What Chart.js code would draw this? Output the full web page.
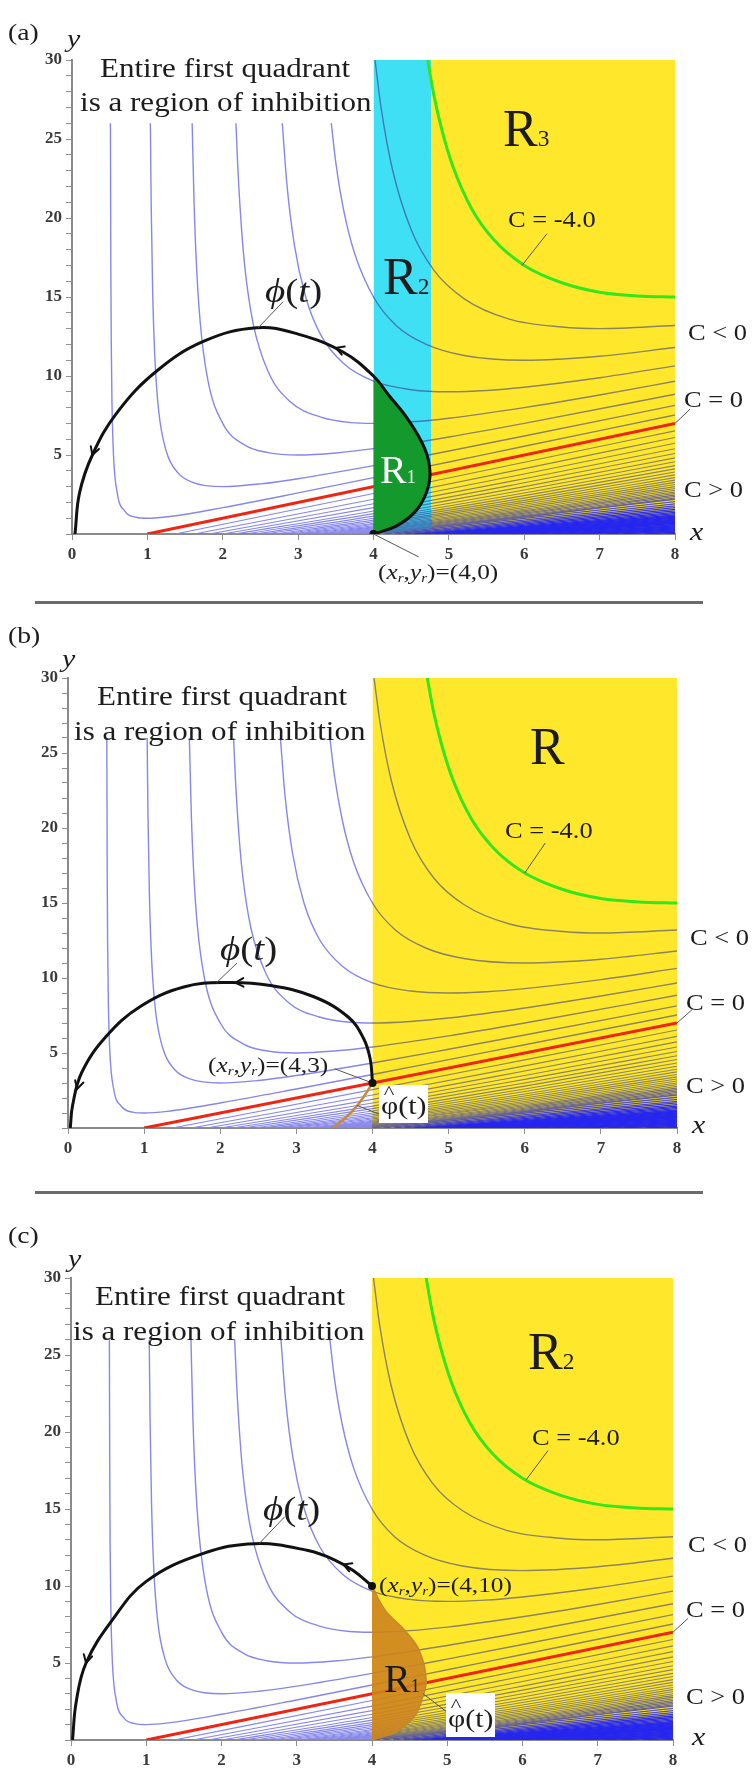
<!DOCTYPE html>
<html>
<head>
<meta charset="utf-8">
<script src="https://cdn.jsdelivr.net/npm/chart.js@4.4.1/dist/chart.umd.min.js"></script>
<style>
  body { margin: 0; background: #fff; }
  #page { position: relative; width: 754px; height: 1782px; overflow: hidden;
          font-family: "Liberation Serif", "Times New Roman", serif; color: #1c1c1c; }
  canvas { position: absolute; left: 0; }
  .t { position: absolute; white-space: nowrap; line-height: 1; transform-origin: 0 0; transform: scaleX(1.15); }
  .t .s { font-size: 0.45em; }
  .t sub { font-size: 0.6em; vertical-align: baseline; position: relative; top: 0.22em; }
  .sep { position: absolute; left: 35px; width: 668px; height: 3px; background: #6b6b6b; }
  .box { position: absolute; background: #fff; }
  .hat { position: relative; }
  .hat b { position: absolute; left: 0.12em; top: -0.42em; font-weight: normal; font-size: 0.75em; }
</style>
</head>
<body>
<div id="page"></div>
<script>
// ---- tick labels
const xTickLabels = [0, 1, 2, 3, 4, 5, 6, 7, 8];
const yTickLabels = [5, 10, 15, 20, 25, 30];

// ---- level curves above C = 0 as [x, y]
const curveA = [[0.51,26],[0.515,17],[0.52,12.5],[0.53,8.4],[0.55,5.05],[0.6,2.6],[0.7,1.45],[0.85,1.06],[1,1],[1.3,1.11],[2,1.67],[3,2.6],[4,3.57],[5,4.56],[6,5.55],[8,7.53]];
const curveB = [[1.04,26],[1.05,21],[1.07,15.4],[1.1,11.1],[1.15,7.8],[1.25,5.25],[1.4,3.9],[1.6,3.27],[2,3],[2.5,3.17],[3,3.5],[4,4.33],[5,5.25],[6,6.2],[8,8.14]];
const curveC = [[1.594,26],[1.62,20.9],[1.65,17.15],[1.7,13.45],[1.8,9.8],[2,7],[2.3,5.61],[2.6,5.15],[3,5],[3.5,5.13],[4,5.4],[5,6.14],[6,7],[8,8.85]];
const curveD = [[2.175,26],[2.2,23.2],[2.25,19.25],[2.3,16.6],[2.4,13.4],[2.6,10.3],[2.9,8.35],[3.3,7.4],[3.7,7.05],[4,7],[4.5,7.1],[5,7.33],[6,8],[7,8.8],[8,9.67]];
const curveE = [[2.79,26],[2.85,22.2],[2.95,18.3],[3.1,15],[3.3,12.6],[3.6,10.8],[4,9.67],[4.5,9.13],[5,9],[5.5,9.08],[6,9.29],[7,9.89],[8,10.64]];
const curveF = [[3.44,26],[3.5,23.5],[3.6,20.6],[3.75,17.75],[4,15],[4.3,13.2],[4.7,12],[5.2,11.3],[6,11],[7,11.25],[8,11.8]];
const curveG = [[4.02,30],[4.1,27],[4.25,23.1],[4.5,19.25],[4.8,16.7],[5.2,14.9],[5.8,13.6],[6.5,13.1],[7,13],[8,13.2]];
const curveMinus4 = [[4.72,30],[4.8,27.8],[4.9,25.7],[5.05,23.3],[5.3,20.6],[5.6,18.6],[6,17],[6.5,15.9],[7,15.3],[7.5,15.07],[8,15]];
const curveZero = [[1,0],[8,7]];

// ---- level curves below C = 0 (C > 0): start on the x axis, y at x = 4, 6, 8
const fanStartX = [1.37,1.62,1.82,2.0,2.16,2.3,2.44,2.56,2.68,2.79,2.9,3.0,3.1,3.19,3.28,3.37,3.46,3.54,3.62,3.7,3.78,3.85,3.93];
const fanY4 = [2.56,2.2,1.91,1.67,1.46,1.29,1.13,1.0,0.88,0.78,0.68,0.6,0.52,0.45,0.39,0.33,0.28,0.23,0.19,0.14,0.1,0.07,0.03];
const fanY6 = [4.54,4.14,3.8,3.5,3.24,3.0,2.79,2.6,2.43,2.27,2.13,2.0,1.88,1.77,1.67,1.57,1.48,1.4,1.32,1.25,1.18,1.12,1.06];
const fanY8 = [6.53,6.11,5.74,5.4,5.1,4.82,4.57,4.33,4.12,3.92,3.74,3.57,3.41,3.27,3.13,3.0,2.88,2.77,2.66,2.56,2.46,2.37,2.28];
// dense ones near the bottom right: start on the x axis, y at x = 8
const bandStartX = [4.0,4.14,4.28,4.41,4.53,4.65,4.77,4.89,5.0,5.11,5.22,5.32,5.42,5.52,5.62,5.72,5.82,5.91,6.0,6.18,6.35,6.52,6.69,6.84,7.08,7.3,7.59,7.87];
const bandY8 = [2.2,2.05,1.91,1.78,1.67,1.56,1.46,1.37,1.29,1.21,1.13,1.07,1.0,0.94,0.88,0.83,0.78,0.73,0.68,0.6,0.52,0.46,0.39,0.33,0.26,0.19,0.1,0.03];
// where those lines merge into a solid blue wedge
const bandSolid = [[4.5,0],[8,1.2]];

// ---- trajectories
const phiA = [[4,0],[4.3,0.5],[4.55,1.4],[4.7,2.6],[4.75,3.9],[4.68,5.4],[4.45,7.3],[4.2,8.8],[4,10],[3.6,11.5],[3,12.65],[2.45,13.05],[1.75,12.2],[1.12,10.3],[0.6,7.7],[0.27,5],[0.1,2.6],[0.04,0]];
const regionA = phiA.slice(0, 9);
const phiB = [[4,3],[3.97,4.6],[3.88,6],[3.68,7.4],[3.23,8.75],[2.66,9.5],[2.09,9.7],[1.52,9.4],[0.95,8.1],[0.5,6.1],[0.18,3.7],[0.06,1.5],[0.03,0]];
const phiHatB = [[4,3],[3.9,2.2],[3.8,1.5],[3.65,0.7],[3.48,0]];
const phiC = [[4,10],[3.75,11],[3.5,11.7],[3.15,12.3],[2.45,12.75],[1.75,12.1],[1,10.3],[0.55,7.8],[0.2,5],[0.07,2.5],[0.02,0]];
const regionC = [[4,10],[4.18,8.4],[4.44,7.1],[4.63,5.8],[4.72,3.9],[4.66,2.6],[4.56,1.5],[4.3,0.5],[4,0]];
const resetA = [[4,0]], resetB = [[4,3]], resetC = [[4,10]];

// ---- shaded regions
const yellowA = [[4.77,30],[8,30]];
const cyanA = [[4,30],[4.77,30]];
const yellowBC = [[4,30],[8,30]];

const LAV = '#8686ec', STEEL = '#3e7cb6', OLIVE = '#8b8360', DEEP = '#2a2af0';
const page = document.getElementById('page');

function hex(c) { return [1, 3, 5].map(i => parseInt(c.substr(i, 2), 16)); }
function mix(a, b, t) {
  const p = hex(a), q = hex(b);
  return 'rgb(' + p.map((v, i) => Math.round(v + (q[i] - v) * t)).join(',') + ')';
}
function pts(list) { return list.map(([x, y]) => ({x, y})); }

// stroke that changes colour with x, built from the x scale
function strokeFor(stops) {
  return (ctx) => {
    const chart = ctx.chart;
    if (!chart.chartArea) return stops[0][1];
    const xs = chart.scales.x;
    const g = chart.ctx.createLinearGradient(xs.getPixelForValue(0), 0, xs.getPixelForValue(8), 0);
    stops.forEach(([from, col], i) => {
      const to = i + 1 < stops.length ? stops[i + 1][0] : 8;
      g.addColorStop(from / 8, col);
      g.addColorStop(to / 8, col);
    });
    return g;
  };
}

function lab(html, left, base, size, opt) {
  opt = opt || {};
  const d = document.createElement('div');
  d.className = 't';
  d.innerHTML = html;
  d.style.left = left + 'px';
  d.style.top = (base - 0.816 * size) + 'px';
  d.style.fontSize = size + 'px';
  if (opt.color) d.style.color = opt.color;
  if (opt.italic) d.style.fontStyle = 'italic';
  if (opt.sx) d.style.transform = 'scaleX(' + opt.sx + ')';
  page.appendChild(d);
  return d;
}

function box(left, top, w, h) {
  const d = document.createElement('div');
  d.className = 'box';
  Object.assign(d.style, {left: left + 'px', top: top + 'px', width: w + 'px', height: h + 'px'});
  page.appendChild(d);
}

function sep(top) {
  const d = document.createElement('div');
  d.className = 'sep';
  d.style.top = top + 'px';
  page.appendChild(d);
}

function arrowPlugin(list) {
  return {
    id: 'arrows',
    afterDatasetsDraw(chart) {
      const {ctx, scales: {x, y}} = chart;
      ctx.save();
      ctx.strokeStyle = '#111';
      ctx.lineWidth = 2;
      ctx.lineCap = 'round';
      list.forEach(([ax, ay, bx, by]) => {
        const px = x.getPixelForValue(ax), py = y.getPixelForValue(ay);
        const a = Math.atan2(y.getPixelForValue(by) - py, x.getPixelForValue(bx) - px);
        ctx.beginPath();
        ctx.moveTo(px - 9 * Math.cos(a - 0.5), py - 9 * Math.sin(a - 0.5));
        ctx.lineTo(px, py);
        ctx.lineTo(px - 9 * Math.cos(a + 0.5), py - 9 * Math.sin(a + 0.5));
        ctx.stroke();
      });
      ctx.restore();
    }
  };
}

function makePanel(p) {
  const cv = document.createElement('canvas');
  cv.width = 754;
  cv.height = p.h;
  cv.style.top = p.top + 'px';
  page.appendChild(cv);

  const ds = [];
  // background regions
  p.shades.forEach(([data, color]) => ds.push({
    data: pts(data), fill: 'origin', backgroundColor: color, borderWidth: 0, order: 100
  }));
  // C < 0 curves
  [curveA, curveB, curveC, curveD, curveE, curveF, curveG].forEach(c => ds.push({
    data: pts(c), borderColor: strokeFor(p.stops), borderWidth: 1.4,
    cubicInterpolationMode: 'monotone', order: 60
  }));
  // C > 0 curves
  fanStartX.forEach((x0, i) => {
    const right = mix(OLIVE, DEEP, Math.max(0, (i - 14) / 20));
    const stops = p.stops.slice(0, -1).concat([[p.stops[p.stops.length - 1][0], right]]);
    ds.push({
      data: pts([[x0, 0], [4, fanY4[i]], [6, fanY6[i]], [8, fanY8[i]]]),
      borderColor: strokeFor(stops), borderWidth: 1.1,
      cubicInterpolationMode: 'monotone', order: 60
    });
  });
  bandStartX.forEach((x0, i) => ds.push({
    data: pts([[x0, 0], [8, bandY8[i]]]),
    borderColor: mix(OLIVE, DEEP, Math.min(1, 0.4 + i / 9)), borderWidth: 1.3, order: 60
  }));
  ds.push({data: pts(bandSolid), fill: 'origin', backgroundColor: 'rgba(36,36,238,0.7)', borderWidth: 0, order: 58});
  ds.push({data: pts(curveMinus4), borderColor: '#34e61c', borderWidth: 3, cubicInterpolationMode: 'monotone', order: 50});
  ds.push({data: pts(curveZero), borderColor: '#ef2413', borderWidth: 3, order: 50});
  // regions bounded by the trajectory
  if (p.region) ds.push({
    data: pts(p.region[0]), fill: 'shape', backgroundColor: p.region[1],
    borderColor: p.region[2], borderWidth: p.region[3], tension: 0.4, order: 40
  });
  if (p.hat) ds.push({data: pts(p.hat), borderColor: '#c98a30', borderWidth: 2.5, tension: 0.4, order: 35});
  ds.push({data: pts(p.phi), borderColor: '#111', borderWidth: 3, tension: 0.4, order: 30});
  // leader lines for the labels
  p.leaders.forEach(l => ds.push({data: pts(l), borderColor: '#555', borderWidth: 1, clip: false, order: 25}));
  ds.push({data: pts(p.reset), showLine: false, pointRadius: 4, pointBackgroundColor: '#111', pointBorderWidth: 0, order: 20});

  const tickFont = {family: '"Liberation Serif", serif', size: 17, weight: 'bold'};
  const axisCommon = {
    type: 'linear',
    grid: {drawOnChartArea: false, drawTicks: true, tickLength: 6, color: '#8f8f8f'},
    border: {display: true, color: '#8a8a8a', width: 2}
  };
  return new Chart(cv, {
    type: 'line',
    data: {datasets: ds},
    options: {
      responsive: false,
      animation: false,
      layout: {padding: {top: p.areaTop - p.top, right: 754 - p.right, left: 0, bottom: 0}},
      plugins: {legend: {display: false}, tooltip: {enabled: false}},
      elements: {point: {radius: 0}, line: {borderJoinStyle: 'round'}},
      scales: {
        x: Object.assign({}, axisCommon, {
          min: 0, max: 8,
          ticks: {stepSize: 1, autoSkip: false, maxRotation: 0, padding: 4, color: '#3a3a3a', font: tickFont,
                  callback: v => xTickLabels.includes(v) ? String(v) : ''},
          afterFit: s => { s.height = p.top + p.h - p.areaBottom; }
        }),
        y: Object.assign({}, axisCommon, {
          min: 0, max: 30,
          ticks: {stepSize: 1, autoSkip: false, padding: 4, color: '#3a3a3a', font: tickFont,
                  callback: v => yTickLabels.includes(v) ? String(v) : ''},
          afterFit: s => { s.width = p.left; }
        })
      }
    },
    plugins: [arrowPlugin(p.arrows)]
  });
}

const panels = [
  {top: 0, h: 575, left: 72, right: 675, areaTop: 60, areaBottom: 534,
   stops: [[0, LAV], [4, STEEL], [4.77, OLIVE]],
   shades: [[yellowA, '#ffe82c'], [cyanA, '#3fdff4']],
   region: [regionA, '#14992c', 'rgba(0,0,0,0)', 0],
   phi: phiA, reset: resetA,
   arrows: [[0.27, 5, 0.1, 2.6], [3.5, 11.78, 3.0, 12.65]],
   leaders: [[[2.8, 14.7], [2.47, 13.05]], [[6.3, 19.0], [5.97, 17.0]], [[8.2, 7.9], [8, 7]], [[4, 0], [4.6, -1.45]]]},
  {top: 610, h: 565, left: 68, right: 677, areaTop: 678, areaBottom: 1128,
   stops: [[0, LAV], [4, OLIVE]],
   shades: [[yellowBC, '#ffe82c']],
   phi: phiB, hat: phiHatB, reset: resetB,
   arrows: [[2.2, 9.69, 1.9, 9.64], [0.12, 2.6, 0.06, 1.5]],
   leaders: [[[2.22, 11.0], [1.95, 9.68]], [[6.27, 19.0], [6.0, 17.0]], [[8.2, 7.9], [8, 7]], [[3.5, 3.95], [4, 3]], [[3.8, 1.5], [4.1, 0.9]]]},
  {top: 1200, h: 582, left: 71, right: 673, areaTop: 1278, areaBottom: 1740,
   stops: [[0, LAV], [4, OLIVE]],
   shades: [[yellowBC, '#ffe82c']],
   region: [regionC, 'rgba(206,132,32,0.9)', '#c8862a', 1.5],
   phi: phiC, reset: resetC,
   arrows: [[0.2, 5, 0.07, 2.5], [3.62, 11.4, 3.15, 12.3]],
   leaders: [[[2.84, 14.5], [2.5, 12.75]], [[6.34, 18.8], [6.05, 16.9]], [[8.2, 7.9], [8, 7]], [[4.68, 3.0], [5.08, 1.5]]]}
];

panels.forEach(makePanel);

sep(601);
sep(1191);

const XR = '(<i>x<sub>r</sub></i>,<i>y<sub>r</sub></i>)=';
const PHI = '<i>ϕ</i>(<i>t</i>)';
const HAT = '<span class="hat">φ<b>^</b></span>(t)';

// panel (a)
lab('(a)', 8, 40, 24);
lab('y', 67, 47, 26, {italic: true});
lab('Entire first quadrant', 100, 77, 27);
lab('is a region of inhibition', 80, 111, 27);
lab('R<span class="s">3</span>', 503, 145, 52, {sx: 1});
lab('R<span class="s">2</span>', 383, 293, 52, {sx: 1});
lab('R<span class="s">1</span>', 380, 483, 40, {sx: 1, color: '#fff'});
lab('C = -4.0', 508, 227, 23);
lab('C &lt; 0', 688, 340, 23);
lab('C = 0', 684, 407, 23);
lab('C &gt; 0', 684, 497, 23);
lab('x', 690, 540, 26, {italic: true});
lab(PHI, 265, 302, 34);
lab(XR + '(4,0)', 378, 579, 22);

// panel (b)
lab('(b)', 8, 643, 24);
lab('y', 62, 667, 26, {italic: true});
lab('Entire first quadrant', 97, 705, 27);
lab('is a region of inhibition', 74, 740, 27);
lab('R', 530, 763, 52, {sx: 1});
lab('C = -4.0', 505, 838, 23);
lab('C &lt; 0', 690, 945, 23);
lab('C = 0', 686, 1010, 23);
lab('C &gt; 0', 686, 1093, 23);
lab('x', 692, 1133, 26, {italic: true});
lab(PHI, 220, 960, 34);
lab(XR + '(4,3)', 208, 1072, 22);
box(379, 1085, 49, 38);
lab(HAT, 381, 1114, 26);

// panel (c)
lab('(c)', 8, 1243, 24);
lab('y', 68, 1267, 26, {italic: true});
lab('Entire first quadrant', 95, 1305, 27);
lab('is a region of inhibition', 73, 1340, 27);
lab('R<span class="s">2</span>', 528, 1368, 52, {sx: 1});
lab('C = -4.0', 532, 1445, 23);
lab('C &lt; 0', 688, 1552, 23);
lab('C = 0', 686, 1617, 23);
lab('C &gt; 0', 686, 1704, 23);
lab('x', 692, 1745, 26, {italic: true});
lab(PHI, 263, 1520, 34);
lab(XR + '(4,10)', 379, 1592, 22);
lab('R<span class="s">1</span>', 384, 1692, 40, {sx: 1});
box(446, 1693, 49, 44);
lab(HAT, 448, 1727, 26);
</script>
</body>
</html>
